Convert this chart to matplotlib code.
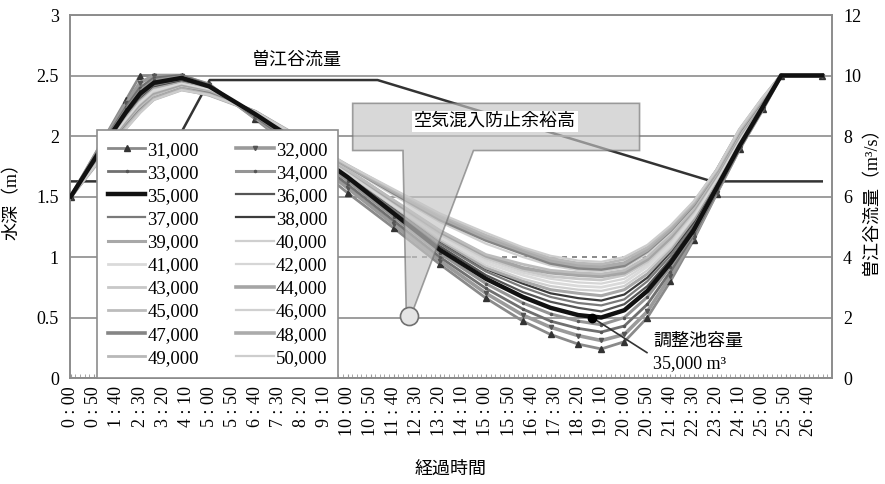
import matplotlib
matplotlib.use("Agg")
import matplotlib.pyplot as plt
from matplotlib.patches import Polygon
from matplotlib.ticker import MultipleLocator, FixedLocator

plt.rcParams['font.family'] = ['Liberation Serif', 'Noto Sans CJK JP']
plt.rcParams['font.size'] = 12

# ─────────────────────────────────────────
#  data
# ─────────────────────────────────────────
# elapsed time in minutes
minutes = [0, 60, 120, 150, 180, 240, 300, 400, 500, 600, 700, 800, 900, 980,
           1040, 1100, 1150, 1200, 1250, 1300, 1350, 1400, 1450, 1500, 1540, 1628]

# water depth (m) for each pond volume (m3)
depth_31000 = [1.50, 1.90, 2.30, 2.50, 2.50, 2.50, 2.43, 2.14, 1.84, 1.53, 1.24, 0.94, 0.66, 0.47, 0.36, 0.28, 0.24, 0.30, 0.50, 0.80, 1.14, 1.52, 1.89, 2.22, 2.50, 2.50]
depth_32000 = [1.50, 1.89, 2.27, 2.44, 2.50, 2.50, 2.42, 2.15, 1.87, 1.57, 1.27, 0.97, 0.70, 0.52, 0.42, 0.35, 0.31, 0.36, 0.55, 0.84, 1.16, 1.53, 1.90, 2.22, 2.50, 2.50]
depth_33000 = [1.50, 1.88, 2.24, 2.40, 2.48, 2.50, 2.42, 2.16, 1.89, 1.60, 1.30, 1.00, 0.74, 0.57, 0.47, 0.41, 0.38, 0.43, 0.61, 0.88, 1.18, 1.54, 1.90, 2.23, 2.50, 2.50]
depth_34000 = [1.50, 1.87, 2.22, 2.37, 2.46, 2.49, 2.41, 2.17, 1.91, 1.63, 1.33, 1.03, 0.78, 0.62, 0.53, 0.47, 0.44, 0.50, 0.67, 0.92, 1.20, 1.56, 1.91, 2.23, 2.50, 2.50]
depth_35000 = [1.50, 1.86, 2.20, 2.35, 2.44, 2.48, 2.41, 2.18, 1.93, 1.66, 1.36, 1.06, 0.82, 0.67, 0.58, 0.52, 0.50, 0.56, 0.72, 0.95, 1.22, 1.57, 1.92, 2.24, 2.50, 2.50]
depth_36000 = [1.50, 1.85, 2.18, 2.33, 2.42, 2.47, 2.40, 2.18, 1.94, 1.67, 1.38, 1.09, 0.85, 0.71, 0.63, 0.58, 0.55, 0.61, 0.76, 0.98, 1.25, 1.59, 1.93, 2.24, 2.50, 2.50]
depth_37000 = [1.50, 1.84, 2.17, 2.31, 2.41, 2.46, 2.40, 2.18, 1.94, 1.68, 1.39, 1.11, 0.88, 0.75, 0.67, 0.62, 0.60, 0.65, 0.80, 1.01, 1.27, 1.60, 1.94, 2.25, 2.50, 2.50]
depth_38000 = [1.50, 1.84, 2.16, 2.30, 2.40, 2.45, 2.39, 2.18, 1.95, 1.69, 1.41, 1.13, 0.90, 0.78, 0.70, 0.66, 0.64, 0.69, 0.83, 1.04, 1.29, 1.62, 1.95, 2.25, 2.50, 2.50]
depth_39000 = [1.50, 1.83, 2.15, 2.29, 2.39, 2.44, 2.39, 2.18, 1.95, 1.69, 1.42, 1.14, 0.91, 0.80, 0.73, 0.70, 0.68, 0.73, 0.86, 1.06, 1.31, 1.63, 1.96, 2.26, 2.50, 2.50]
depth_40000 = [1.50, 1.83, 2.14, 2.28, 2.38, 2.43, 2.38, 2.18, 1.95, 1.69, 1.42, 1.15, 0.93, 0.82, 0.76, 0.73, 0.72, 0.76, 0.89, 1.08, 1.33, 1.64, 1.97, 2.26, 2.50, 2.50]
depth_41000 = [1.50, 1.82, 2.13, 2.27, 2.37, 2.43, 2.38, 2.18, 1.95, 1.70, 1.43, 1.17, 0.95, 0.85, 0.79, 0.76, 0.75, 0.79, 0.92, 1.10, 1.34, 1.65, 1.98, 2.27, 2.50, 2.50]
depth_42000 = [1.50, 1.82, 2.12, 2.26, 2.36, 2.42, 2.37, 2.18, 1.95, 1.70, 1.44, 1.18, 0.97, 0.87, 0.82, 0.79, 0.78, 0.82, 0.94, 1.12, 1.36, 1.66, 1.99, 2.27, 2.50, 2.50]
depth_43000 = [1.50, 1.81, 2.11, 2.25, 2.35, 2.41, 2.37, 2.19, 1.96, 1.71, 1.45, 1.19, 0.99, 0.89, 0.84, 0.82, 0.81, 0.85, 0.96, 1.14, 1.37, 1.67, 2.00, 2.28, 2.50, 2.50]
depth_44000 = [1.50, 1.81, 2.10, 2.24, 2.34, 2.41, 2.36, 2.19, 1.96, 1.72, 1.46, 1.21, 1.01, 0.91, 0.87, 0.85, 0.84, 0.87, 0.98, 1.16, 1.39, 1.68, 2.01, 2.28, 2.50, 2.50]
depth_45000 = [1.50, 1.80, 2.09, 2.23, 2.33, 2.40, 2.36, 2.19, 1.96, 1.72, 1.47, 1.22, 1.02, 0.94, 0.89, 0.87, 0.86, 0.89, 1.00, 1.18, 1.40, 1.69, 2.02, 2.29, 2.50, 2.50]
depth_46000 = [1.50, 1.80, 2.09, 2.22, 2.32, 2.40, 2.35, 2.19, 1.97, 1.74, 1.51, 1.29, 1.11, 1.00, 0.93, 0.89, 0.88, 0.91, 1.03, 1.20, 1.42, 1.70, 2.03, 2.29, 2.50, 2.50]
depth_47000 = [1.50, 1.80, 2.08, 2.21, 2.31, 2.39, 2.35, 2.20, 1.97, 1.75, 1.53, 1.31, 1.14, 1.03, 0.95, 0.91, 0.90, 0.93, 1.05, 1.22, 1.43, 1.71, 2.04, 2.30, 2.50, 2.50]
depth_48000 = [1.50, 1.79, 2.07, 2.20, 2.31, 2.39, 2.34, 2.20, 1.98, 1.75, 1.54, 1.33, 1.16, 1.05, 0.97, 0.93, 0.92, 0.95, 1.06, 1.23, 1.44, 1.71, 2.05, 2.31, 2.50, 2.50]
depth_49000 = [1.50, 1.79, 2.07, 2.20, 2.30, 2.38, 2.34, 2.20, 1.98, 1.76, 1.55, 1.35, 1.18, 1.07, 0.99, 0.95, 0.94, 0.98, 1.08, 1.25, 1.45, 1.72, 2.05, 2.31, 2.50, 2.50]
depth_50000 = [1.50, 1.79, 2.06, 2.19, 2.30, 2.38, 2.34, 2.20, 1.98, 1.76, 1.56, 1.36, 1.20, 1.08, 1.01, 0.97, 0.96, 1.00, 1.10, 1.26, 1.46, 1.72, 2.06, 2.32, 2.50, 2.50]

volume_labels = ["31,000", "32,000", "33,000", "34,000", "35,000", "36,000", "37,000",
                 "38,000", "39,000", "40,000", "41,000", "42,000", "43,000", "44,000",
                 "45,000", "46,000", "47,000", "48,000", "49,000", "50,000"]
depth_series = [depth_31000, depth_32000, depth_33000, depth_34000, depth_35000,
                depth_36000, depth_37000, depth_38000, depth_39000, depth_40000,
                depth_41000, depth_42000, depth_43000, depth_44000, depth_45000,
                depth_46000, depth_47000, depth_48000, depth_49000, depth_50000]

# Sogodani river flow (m3/s)
flow_minutes = [0, 182, 301, 665, 1390, 1628]
flow_values = [6.5, 6.5, 9.85, 9.85, 6.5, 6.5]

# air entrainment margin level and highlighted case (35,000 m3 minimum)
margin_minutes = [740, 1320]
margin_depth = [1.0, 1.0]
min_point = (1130, 0.50)

tick_minutes = [0, 50, 100, 150, 200, 250, 300, 350, 400, 450, 500, 550, 600, 650,
                700, 750, 800, 850, 900, 950, 1000, 1050, 1100, 1150, 1200, 1250,
                1300, 1350, 1400, 1450, 1500, 1550, 1600]
tick_labels = ["0 : 00", "0 : 50", "1 : 40", "2 : 30", "3 : 20", "4 : 10", "5 : 00",
               "5 : 50", "6 : 40", "7 : 30", "8 : 20", "9 : 10", "10 : 00", "10 : 50",
               "11 : 40", "12 : 30", "13 : 20", "14 : 10", "15 : 00", "15 : 50",
               "16 : 40", "17 : 30", "18 : 20", "19 : 10", "20 : 00", "20 : 50",
               "21 : 40", "22 : 30", "23 : 20", "24 : 10", "25 : 00", "25 : 50", "26 : 40"]

# line styles per series (grayscale like the printed original)
colors = ["#8a8a8a", "#9a9a9a", "#707070", "#959595", "#111111", "#555555", "#7a7a7a",
          "#3c3c3c", "#a8a8a8", "#cfcfcf", "#dadada", "#d6d6d6", "#c8c8c8", "#a5a5a5",
          "#bcbcbc", "#d0d0d0", "#858585", "#ababab", "#b8b8b8", "#cdcdcd"]
widths = [2.0, 2.6, 2.0, 2.2, 3.2, 1.6, 1.6, 1.6, 2.2, 1.6, 2.0, 1.6, 2.0, 2.6,
          2.0, 1.6, 2.6, 2.6, 2.0, 1.6]
markers = ["^", "v", ".", ".", None, None, None, None, None, None, None, None, None,
           None, None, None, None, None, None, None]

# ─────────────────────────────────────────
#  figure
# ─────────────────────────────────────────
fig, ax1 = plt.subplots(figsize=(8.85, 4.84), dpi=100)
fig.subplots_adjust(left=0.079, right=0.940, top=0.969, bottom=0.219)
ax2 = ax1.twinx()
ax1.set_zorder(ax2.get_zorder() + 1)
ax1.patch.set_visible(False)

grid_color = "#8c8c8c"

# flow on the right axis
ax2.plot(flow_minutes, flow_values, color="#333333", lw=1.8)
ax2.set_ylim(0, 12)
ax2.yaxis.set_major_locator(MultipleLocator(2))

# margin line (dashed, masks the grid line)
ax1.plot(margin_minutes, margin_depth, color="white", lw=2.2, zorder=1)
ax1.plot(margin_minutes, margin_depth, color="#777777", lw=1.2, ls=(0, (3, 3)), zorder=1.1)

# depth curves
handles = []
for vals, lab, c, w, m in zip(depth_series, volume_labels, colors, widths, markers):
    if m == "^":
        h, = ax1.plot(minutes, vals, color=c, lw=w, marker=m, ms=4,
                      mfc="#333333", mec="#333333", label=lab, zorder=2)
    elif m is not None:
        h, = ax1.plot(minutes, vals, color=c, lw=w, marker=m, ms=3,
                      mfc="#555555", mec="#555555", label=lab, zorder=2)
    else:
        h, = ax1.plot(minutes, vals, color=c, lw=w, label=lab, zorder=2)
    handles.append(h)
# keep the black 35,000 curve on top
handles[4].set_zorder(3)

ax1.set_ylim(0, 3)
ax1.set_xlim(-2, 1650)
ax1.yaxis.set_major_locator(MultipleLocator(0.5))
ax1.yaxis.set_major_formatter(plt.FuncFormatter(lambda v, p: f"{v:g}"))
ax1.grid(axis="y", color=grid_color, lw=1.2, zorder=0)
ax1.set_axisbelow(True)

ax1.xaxis.set_major_locator(FixedLocator(tick_minutes))
ax1.set_xticklabels(tick_labels, rotation=90)
ax1.xaxis.set_minor_locator(MultipleLocator(10))
ax1.tick_params(axis="x", which="both", direction="in", length=3, color="#999999",
                labelsize=13, pad=6)
ax1.tick_params(axis="y", length=0, labelsize=13, pad=8)
ax2.tick_params(axis="y", length=0, labelsize=13, pad=8)

for ax in (ax1, ax2):
    for s in ax.spines.values():
        s.set_color(grid_color)
        s.set_linewidth(1.2)

ax1.set_ylabel("水深（m）", fontsize=13)
ax1.yaxis.set_label_coords(-0.065, 0.5)
ax2.set_ylabel("曽江谷流量（m³/s）", fontsize=13)
ax2.yaxis.set_label_coords(1.04, 0.5)
ax1.set_xlabel("経過時間", fontsize=13)
ax1.xaxis.set_label_coords(0.5, -0.228)

# callout: air entrainment prevention margin
callout = Polygon([(611, 2.27), (1233, 2.27), (1233, 1.88), (873, 1.88), (742, 0.56),
                   (727, 0.56), (720, 1.88), (611, 1.88)], closed=True,
                  facecolor="#c4c4c4", alpha=0.65, edgecolor="#707070", lw=1.2, zorder=4)
ax1.add_patch(callout)
ax1.plot(733, 0.51, "o", ms=13, mfc="#e4e4e4", mec="#707070", mew=1.2, zorder=5)
ax1.text(919, 2.12, "空気混入防止余裕高", fontsize=13, ha="center", va="center", zorder=6,
         bbox=dict(facecolor="white", edgecolor="none", pad=1.5))

# flow label
ax1.text(490, 2.63, "曽江谷流量", fontsize=13, ha="center", va="center", zorder=6)

# 35,000 m3 minimum marker and label
ax1.plot([min_point[0], 1249], [min_point[1], 0.21], color="#333333", lw=1.2, zorder=5)
ax1.plot(*min_point, "o", color="black", ms=6, zorder=6)
ax1.text(1262, 0.30, "調整池容量", fontsize=13, ha="left", va="center", zorder=6)
ax1.text(1262, 0.12, "35,000 m³", fontsize=13, ha="left", va="center", zorder=6)

# legend (two columns, filled row by row)
order = list(range(0, 20, 2)) + list(range(1, 20, 2))
leg = ax1.legend([handles[i] for i in order], [volume_labels[i] for i in order],
                 ncol=2, loc="lower left", bbox_to_anchor=(0.035, 0.0),
                 borderaxespad=0, fontsize=13.5, handlelength=2.0, handletextpad=0.1,
                 columnspacing=2.0, labelspacing=0.32, borderpad=0.6,
                 fancybox=False, framealpha=1, edgecolor=grid_color)
leg.get_frame().set_linewidth(1.2)
leg.set_zorder(10)

plt.savefig("out.png", dpi=100)
plt.close()
